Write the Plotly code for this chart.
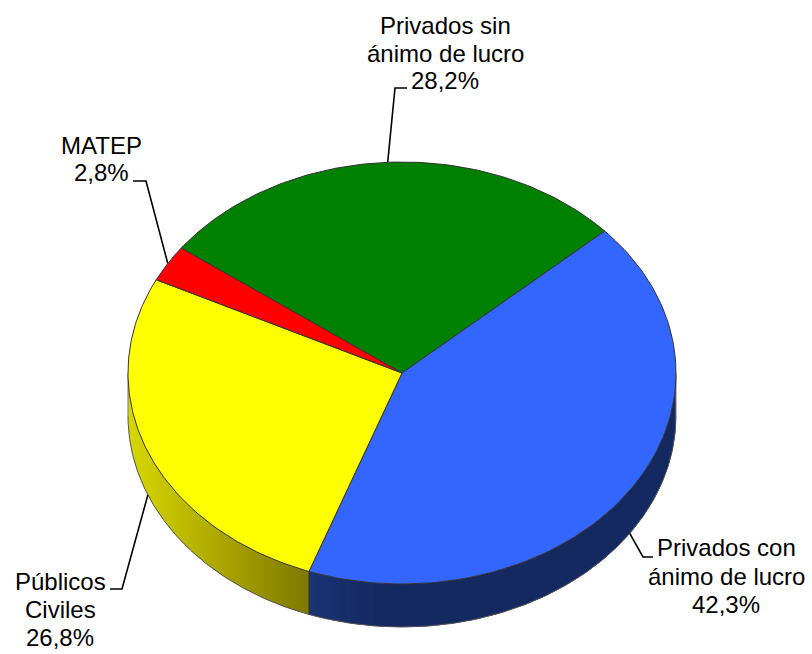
import numpy as np
import plotly.graph_objects as go

categories = ["Privados sin ánimo de lucro", "Privados con ánimo de lucro", "Públicos Civiles", "MATEP"]
values = [28.2, 42.3, 26.8, 2.8]
label_lines = [["Privados sin", "ánimo de lucro"], ["Privados con", "ánimo de lucro"], ["Públicos", "Civiles"], ["MATEP"]]
top_colors = ["#008000", "#3366FF", "#FFFF00", "#FF0000"]

# geometry (pixel scale of the axes)
W, H = 812, 654
CX, CY, RX, RY, DEPTH = 402.0, 373.0, 274.0, 211.0, 43.0
START = -53.7
FS = 24
LEADERS = [((395, 88), (407, 88), False), ((643, 557), (653, 557), True),
           ((122, 589), (110, 589), True), ((146, 181), (133, 181), False)]
LABEL_POS = [(445, [25, 53, 80]), (726, [547, 576, 604]), (60, [581, 609, 637]), (101, [145, 172])]


def ex(a):
    return CX + RX * np.sin(np.radians(a))


def ey(a):
    return CY - RY * np.cos(np.radians(a))


def mix(c1, c2, t):
    return "rgb(%d,%d,%d)" % tuple(round(p + (q - p) * t) for p, q in zip(c1, c2))


WALL_STOPS = {
    1: lambda x: mix((27, 51, 116), (21, 41, 97), min(1, max(0, (x - 308) / 70))),
    2: lambda x: mix((216, 216, 0), (128, 120, 0), min(1, max(0, (x - 128) / 180))),
}

total = sum(values)
edges = [START]
for v in values:
    edges.append(edges[-1] + v / total * 360)

fig = go.Figure()

# side wall (front half only)
for i in range(4):
    a0, a1 = max(edges[i], 90), min(edges[i + 1], 270)
    if a1 <= a0:
        continue
    n = int((a1 - a0) / 1.0) + 1
    aa = np.linspace(a0, a1, n + 1)
    for j in range(n):
        # every strip runs on under the next one, so no seam shows
        s = np.linspace(aa[j], aa[min(j + 2, n)], 5)
        xs = list(ex(s)) + list(ex(s[::-1]))
        ys = list(ey(s)) + list(ey(s[::-1]) + DEPTH)
        col = WALL_STOPS[i](ex(np.array([aa[j], aa[j + 1]])).mean())
        fig.add_trace(go.Scatter(x=xs + xs[:1], y=ys + ys[:1], mode="none", fill="toself",
                                 fillcolor=col, hoverinfo="skip", showlegend=False))
    # outline of the wall bottom
    s = np.linspace(a0, a1, n * 2 + 1)
    fig.add_trace(go.Scatter(x=ex(s), y=ey(s) + DEPTH, mode="lines",
                             line=dict(color="#555555", width=1), hoverinfo="skip", showlegend=False))
    # vertical seam
    if 90 < a0 < 270:
        fig.add_trace(go.Scatter(x=[ex(a0), ex(a0)], y=[ey(a0), ey(a0) + DEPTH], mode="lines",
                                 line=dict(color="#333333", width=1), hoverinfo="skip", showlegend=False))

# right and left silhouette of the wall
for a in (90, 270):
    fig.add_trace(go.Scatter(x=[ex(a), ex(a)], y=[ey(a), ey(a) + DEPTH], mode="lines",
                             line=dict(color="#777777", width=1), hoverinfo="skip", showlegend=False))

# leader lines, from each wedge's middle angle
for i in range(4):
    mid = (edges[i] + edges[i + 1]) / 2
    elbow, end, on_wall = LEADERS[i]
    y0 = ey(mid) + (DEPTH if on_wall else 0)
    fig.add_trace(go.Scatter(x=[ex(mid), elbow[0], end[0]], y=[y0, elbow[1], end[1]], mode="lines",
                             line=dict(color="#000000", width=1.6), hoverinfo="skip", showlegend=False))

# top face
for i in range(4):
    s = np.linspace(edges[i], edges[i + 1], 120)
    fig.add_trace(go.Scatter(x=[CX] + list(ex(s)) + [CX], y=[CY] + list(ey(s)) + [CY], mode="lines",
                             fill="toself", fillcolor=top_colors[i], name=categories[i],
                             line=dict(color="#333333", width=1), showlegend=False,
                             text=f"{categories[i]}: {values[i]}%", hoverinfo="text"))

# labels
annotations = []
for i in range(4):
    lines = label_lines[i] + [f"{values[i]:.1f}%".replace(".", ",")]
    x, ys = LABEL_POS[i]
    for line, y in zip(lines, ys):
        annotations.append(dict(x=x, y=y, xref="x", yref="y", text=line, showarrow=False,
                                xanchor="center", yanchor="middle",
                                font=dict(family="Liberation Sans", size=FS, color="#000000")))

fig.update_layout(
    width=W, height=H, margin=dict(l=0, r=0, t=0, b=0),
    paper_bgcolor="#FFFFFF", plot_bgcolor="#FFFFFF", showlegend=False, annotations=annotations,
    xaxis=dict(range=[0, W], visible=False, fixedrange=True),
    yaxis=dict(range=[H, 0], visible=False, fixedrange=True),
)
fig.write_html("out.html", config=dict(displayModeBar=False),
               post_script="document.body.style.margin='0';document.documentElement.style.overflow='hidden';")
